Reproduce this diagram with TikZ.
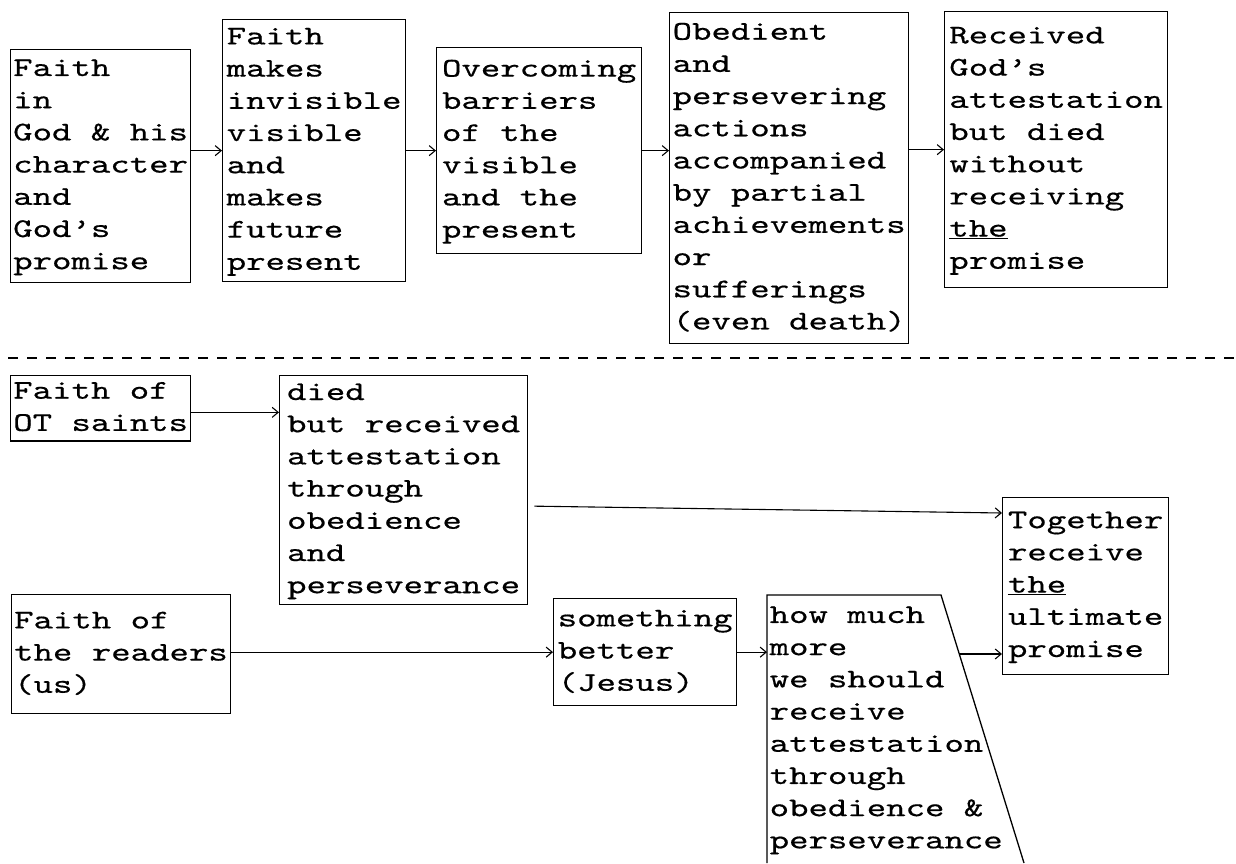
\documentclass[tikz,border=0pt]{standalone}
\usepackage{fontspec}
\newfontfamily\cour{lmmono10-regular.otf}[FakeStretch=1.37,FakeBold=0.5]
\usetikzlibrary{arrows.meta,calc}
\tikzset{
  boxtext/.style={align=left, inner xsep=2.5pt, inner ysep=0.5pt, anchor=north west,
    font=\cour\fontsize{27}{32.2}\selectfont},
  box/.style={boxtext, draw, line width=1.3pt},
  conn/.style={-{Straight Barb[length=6pt,width=10pt]}, line width=1.1pt},
  sep/.style={line width=1.3pt, dash pattern=on 10pt off 9pt}
}
\begin{document}
\begin{tikzpicture}[x=1pt,y=-1pt]
\useasboundingbox (0,0) rectangle (1236,863);
% top row
\node[box, minimum width=180pt, minimum height=233pt] (b1) at (10,49)
  {\strut Faith\\in\\God \& his\\character\\and\\God’s\\promise\strut};
\node[box, minimum width=183pt, minimum height=262pt] (b2) at (222,19)
  {\strut Faith\\makes\\invisible\\visible\\and\\makes\\future\\present\strut};
\node[box, minimum width=205pt, minimum height=206pt] (b3) at (436,47)
  {\strut Overcoming\\barriers\\of the\\visible\\and the\\present\strut};
\node[box, minimum width=239pt, minimum height=331pt] (b4) at (669,12)
  {\strut Obedient\\and\\persevering\\actions\\accompanied\\by partial\\achievements\\or\\sufferings\\(even death)\strut};
\node[box, minimum width=223pt, minimum height=276pt] (b5) at (944,11)
  {\strut Received\\God’s\\attestation\\but died\\without\\receiving\\\underline{the}\\promise\strut};
\draw[conn] (b1.east |- b2.west) -- (b2.west);
\draw[conn] (b2.east) -- (b2.east -| b3.west);
\draw[conn] (b3.east) -- (b3.east -| b4.west);
\draw[conn] (b4.east |- b5.west) -- (b5.west);
% separator
\draw[sep] (8,358) -- (1236,358);
% bottom part
\node[box, minimum width=180pt, minimum height=65pt] (ot) at (10,375)
  {\strut Faith of\\OT saints\strut};
\node[box, minimum width=248pt, minimum height=229pt] (died) at (279,375)
  {\strut died\\but received\\attestation\\through\\obedience\\and\\perseverance\strut};
\node[box, minimum width=214pt, minimum height=119pt] (rd) at (11,594)
  {\strut Faith of\\the readers\\(us)\strut};
\node[box, minimum width=183pt, minimum height=107pt] (sth) at (553,598)
  {\strut something\\better\\(Jesus)\strut};
\node[box, minimum width=166pt, minimum height=177pt] (tog) at (1002,497)
  {\strut Together\\receive\\\underline{the}\\ultimate\\promise\strut};
\node[boxtext, minimum width=174pt, minimum height=268pt] (how) at (767,595)
  {\strut how much\\more\\we should\\receive\\attestation\\through\\obedience \&\\perseverance\strut};
\path (how.north west) ++(174,0) coordinate (howtr);
\path (how.north west) ++(257,268) coordinate (howbr);
\draw[line width=1.3pt] (how.north west |- howbr) -- (how.north west) -- (howtr) -- (howbr);
\coordinate (sl) at ($(howtr)!0.22!(howbr)$);
% connectors
\coordinate (otA) at ([yshift=-4pt]ot.east);
\draw[conn] (otA) -- (otA -| died.west);
\draw[conn] ([shift={(6pt,-16pt)}]died.east) -- ([yshift=-16pt]tog.north west);
\draw[conn] (rd.east |- sth.west) -- (sth.west);
\draw[conn] (sth.east) -- (sth.east -| how.west);
\draw[conn] (sl) -- (sl -| tog.west);
\end{tikzpicture}
\end{document}
